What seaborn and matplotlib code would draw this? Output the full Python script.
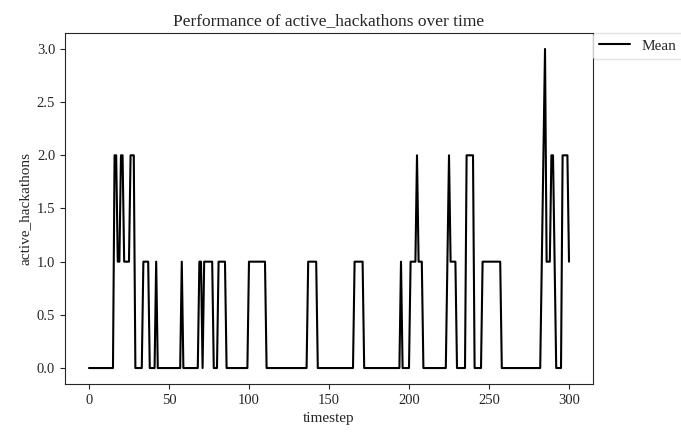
import numpy as np
import pandas as pd
import matplotlib
matplotlib.use("Agg")
import matplotlib.pyplot as plt
import seaborn as sns

# active_hackathons per timestep (start, end, value)
run_starts = [0, 16, 18, 20, 22, 26, 29, 34, 38, 42, 43, 58, 59, 69, 71, 72, 78, 81, 86,
              100, 111, 137, 143, 166, 172, 195, 196, 201, 205, 206, 209, 224, 225, 226,
              227, 230, 236, 241, 246, 258, 283, 284, 285, 286, 289, 291, 292, 296, 300]
run_ends = [15, 17, 19, 21, 25, 28, 33, 37, 41, 42, 57, 58, 68, 70, 71, 77, 80, 85, 99,
            110, 136, 142, 165, 171, 194, 195, 200, 204, 205, 208, 223, 224, 225, 226,
            229, 235, 240, 245, 257, 282, 283, 284, 285, 288, 290, 291, 295, 299, 300]
run_values = [0, 2, 1, 2, 1, 2, 0, 1, 0, 1, 0, 1, 0, 1, 0, 1, 0, 1, 0,
              1, 0, 1, 0, 1, 0, 1, 0, 1, 2, 1, 0, 1, 2, 1,
              1, 0, 2, 0, 1, 0, 1, 2, 3, 1, 2, 1, 0, 2, 1]

timesteps = []
values = []
for s, e, v in zip(run_starts, run_ends, run_values):
    for t in range(s, e + 1):
        timesteps.append(t)
        values.append(v)

df = pd.DataFrame({"timestep": timesteps, "active_hackathons": values})

sns.set_style("ticks")
plt.rcParams['font.family'] = ['Liberation Serif', 'DejaVu Serif']

fig = plt.figure(figsize=(6.81, 4.36), dpi=100)
ax = fig.add_axes([0.0954, 0.1193, 0.7754, 0.805])

sns.lineplot(data=df, x="timestep", y="active_hackathons", color="black",
             label="Mean", ax=ax, linewidth=1.5)

ax.set_title("Performance of active_hackathons over time", fontsize=12.5)
ax.set_xlabel("timestep", fontsize=11)
ax.set_ylabel("active_hackathons", fontsize=11)
ax.tick_params(labelsize=10.5)
ax.set_xticks([0, 50, 100, 150, 200, 250, 300])
ax.set_yticks([0.0, 0.5, 1.0, 1.5, 2.0, 2.5, 3.0])

leg = ax.legend(loc="upper left", bbox_to_anchor=(1.0, 1.0), borderaxespad=0,
                fontsize=11, frameon=True)
leg.get_frame().set_edgecolor("#dddddd")

fig.savefig("out.png", dpi=100)
